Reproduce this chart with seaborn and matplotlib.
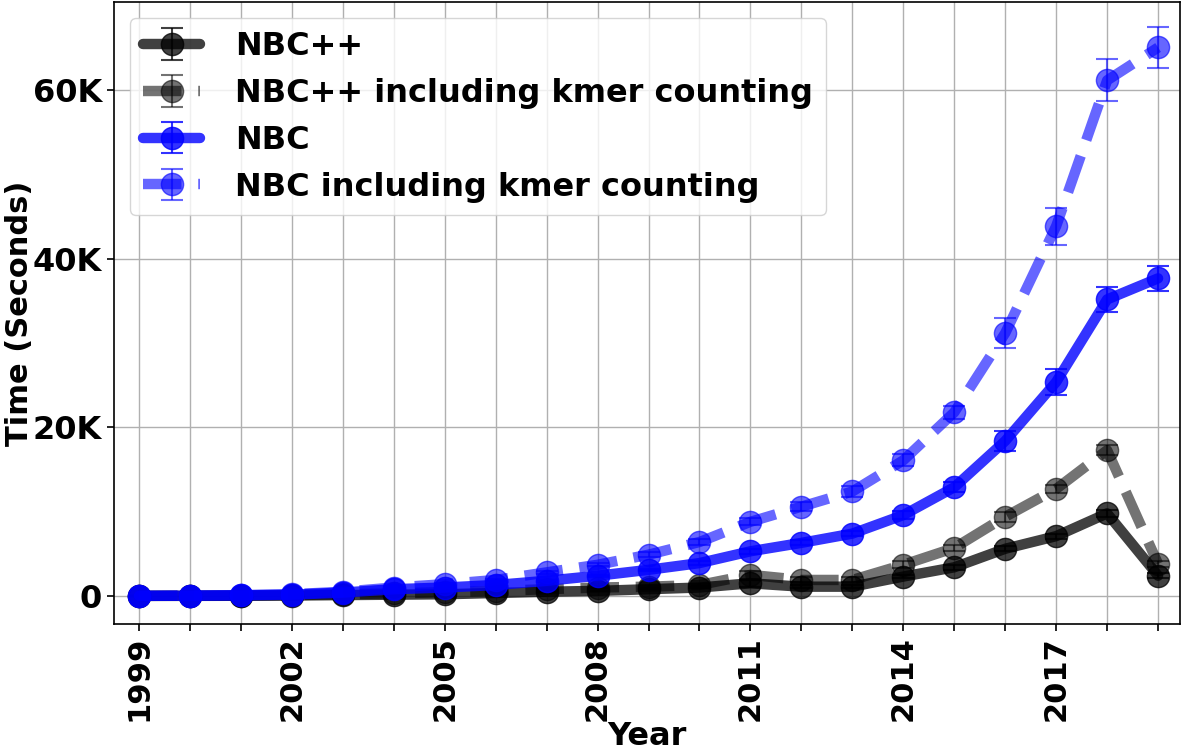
import numpy as np
import matplotlib
matplotlib.use("Agg")
import matplotlib.pyplot as plt
import seaborn as sns
from matplotlib.ticker import FuncFormatter

years = list(range(1999, 2020))

# times in thousands of seconds
nbcpp = [0.005, 0.01, 0.02, 0.05, 0.1, 0.15, 0.2, 0.35, 0.5, 0.6, 0.8, 1.0,
         1.5, 1.1, 1.1, 2.3, 3.4, 5.6, 7.1, 9.8, 2.4]
nbcpp_kmer = [0.01, 0.02, 0.04, 0.1, 0.2, 0.3, 0.45, 0.6, 0.8, 1.0, 1.1, 1.3,
              2.5, 1.9, 1.9, 3.7, 5.7, 9.4, 12.7, 17.3, 3.8]
nbc = [0.01, 0.03, 0.07, 0.15, 0.4, 0.8, 1.0, 1.3, 1.8, 2.4, 3.1, 3.9,
       5.3, 6.3, 7.4, 9.6, 12.9, 18.4, 25.4, 35.2, 37.7]
nbc_kmer = [0.02, 0.05, 0.1, 0.2, 0.5, 1.0, 1.4, 1.9, 2.8, 3.7, 4.9, 6.4,
            8.8, 10.6, 12.4, 16.1, 21.8, 31.2, 43.9, 61.2, 65.1]

# error bar half-widths (thousands)
nbcpp_err = [0.0, 0.0, 0.0, 0.0, 0.0, 0.0, 0.0, 0.0, 0.0, 0.0, 0.0, 0.1,
             0.4, 0.2, 0.2, 0.2, 0.3, 0.3, 0.3, 0.4, 0.3]
nbcpp_kmer_err = [0.0, 0.0, 0.0, 0.0, 0.0, 0.0, 0.0, 0.0, 0.0, 0.0, 0.1, 0.1,
                  0.5, 0.3, 0.3, 0.4, 0.4, 0.6, 0.5, 0.6, 0.4]
nbc_err = [0.0, 0.0, 0.0, 0.0, 0.0, 0.0, 0.0, 0.1, 0.1, 0.1, 0.1, 0.2,
           0.3, 0.3, 0.3, 0.5, 0.6, 1.2, 1.5, 1.5, 1.5]
nbc_kmer_err = [0.0, 0.0, 0.0, 0.0, 0.0, 0.1, 0.1, 0.1, 0.2, 0.2, 0.3, 0.3,
                0.4, 0.5, 0.6, 0.7, 0.8, 1.8, 2.2, 2.5, 2.4]

labels = ["NBC++", "NBC++ including kmer counting", "NBC", "NBC including kmer counting"]

sns.set_style("ticks")
plt.rcParams['font.family'] = ['DejaVu Sans']
plt.rcParams['font.weight'] = 'bold'
for key in ['text.color', 'axes.labelcolor', 'xtick.color', 'ytick.color', 'axes.edgecolor']:
    plt.rcParams[key] = 'black'

FS = 23

fig, ax = plt.subplots(figsize=(11.82, 7.52), dpi=100)
fig.subplots_adjust(left=114 / 1182, right=1180 / 1182, top=1 - 2 / 752, bottom=1 - 624 / 752)

series = [
    (nbcpp, nbcpp_err, 'black', 0.75, '-'),
    (nbcpp_kmer, nbcpp_kmer_err, 'black', 0.55, '--'),
    (nbc, nbc_err, 'blue', 0.8, '-'),
    (nbc_kmer, nbc_kmer_err, 'blue', 0.6, '--'),
]

for (vals, err, color, alpha, ls), label in zip(series, labels):
    v = np.array(vals) * 1000
    e = np.array(err) * 1000
    ax.errorbar(years, v, yerr=e, color=color, alpha=alpha, linestyle=ls,
                linewidth=7.5, marker='o', markersize=16, capsize=8,
                elinewidth=1.5, capthick=1.5, label=label)

ax.set_xlim(1998.51, 2019.43)
ax.set_ylim(-3330, 70500)
ax.set_xticks(years)
ax.set_xticklabels([str(y) if (y - 1999) % 3 == 0 else '' for y in years],
                   rotation=90, fontsize=22, fontweight='bold')
ax.set_yticks([0, 20000, 40000, 60000])
ax.yaxis.set_major_formatter(FuncFormatter(lambda x, p: '0' if x == 0 else f'{int(x / 1000)}K'))
for t in ax.get_yticklabels():
    t.set_fontsize(FS)
    t.set_fontweight('bold')
ax.tick_params(axis='both', length=5, width=1.2, color='black', labelcolor='black')

ax.grid(True, color='#b0b0b0', linewidth=1)
for s in ax.spines.values():
    s.set_color('black')
    s.set_linewidth(1.2)

ax.set_xlabel('Year', fontsize=FS, fontweight='bold', labelpad=0)
ax.set_ylabel('Time (Seconds)', fontsize=22, fontweight='bold')
ax.yaxis.set_label_coords(-0.075, 0.5)

ax.legend(loc='upper left', prop={'weight': 'bold', 'size': FS},
          framealpha=0.8, handlelength=1.8, handletextpad=1.1, borderaxespad=0.5)

plt.savefig('out.png', dpi=100)
